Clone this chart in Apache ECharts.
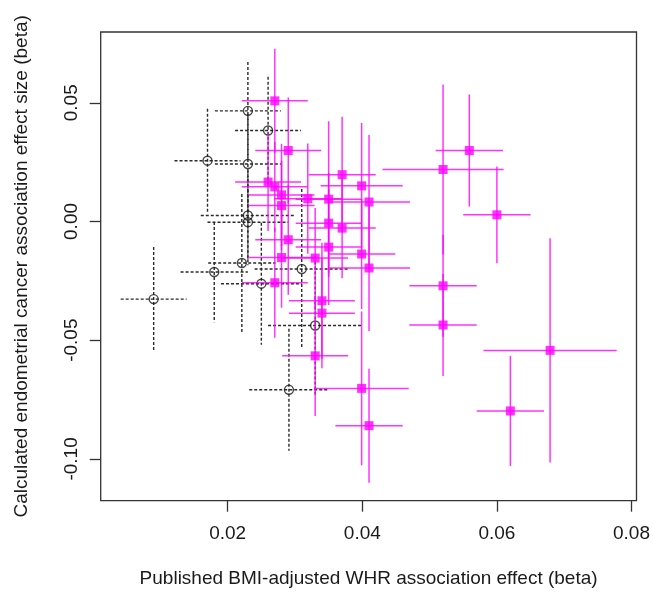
<!DOCTYPE html>
<html>
<head>
<meta charset="utf-8">
<script src="https://cdn.jsdelivr.net/npm/echarts@6/dist/echarts.min.js"></script>
<style>
html,body{margin:0;padding:0;background:#fff;}
#chart{width:653px;height:596px;}
</style>
</head>
<body>
<div id="chart"></div>
<script>
// Black (open circle) points: x, y, x half-width, y half-width
const blackX    = [0.0230, 0.0260, 0.0170, 0.0230, 0.0230, 0.0230, 0.0221, 0.0180, 0.0250, 0.0310, 0.0330, 0.0291, 0.0090];
const blackY    = [0.0466, 0.0383, 0.0256, 0.0242, 0.0025, -0.0003, -0.0175, -0.0213, -0.0262, -0.0200, -0.0438, -0.0709, -0.0327];
const blackXErr = [0.0049, 0.0049, 0.0049, 0.0049, 0.0070, 0.0060, 0.0050, 0.0050, 0.0060, 0.0070, 0.0070, 0.0059, 0.0049];
const blackYErr = [0.0206, 0.0227, 0.0219, 0.0211, 0.0189, 0.0181, 0.0291, 0.0211, 0.0257, 0.0337, 0.0291, 0.0257, 0.0219];

// Magenta (filled square) points
const magX    = [0.0270, 0.0290, 0.0370, 0.0520, 0.0559, 0.0260, 0.0270, 0.0280, 0.0319, 0.0350, 0.0399, 0.0410, 0.0280, 0.0600, 0.0350, 0.0370, 0.0290, 0.0350, 0.0399, 0.0280, 0.0330, 0.0410, 0.0520, 0.0270, 0.0340, 0.0340, 0.0520, 0.0679, 0.0330, 0.0399, 0.0620, 0.0410];
const magY    = [0.0508, 0.0299, 0.0197, 0.0219, 0.0299, 0.0166, 0.0146, 0.0112, 0.0096, 0.0094, 0.0150, 0.0082, 0.0067, 0.0028, -0.0007, -0.0028, -0.0077, -0.0108, -0.0137, -0.0152, -0.0154, -0.0196, -0.0271, -0.0258, -0.0334, -0.0386, -0.0436, -0.0543, -0.0566, -0.0703, -0.0798, -0.0860];
const magXErr = [0.0049, 0.0049, 0.0050, 0.0090, 0.0050, 0.0049, 0.0049, 0.0049, 0.0050, 0.0049, 0.0061, 0.0061, 0.0049, 0.0050, 0.0049, 0.0050, 0.0049, 0.0049, 0.0050, 0.0049, 0.0049, 0.0061, 0.0050, 0.0049, 0.0049, 0.0049, 0.0050, 0.0099, 0.0049, 0.0070, 0.0050, 0.0050];
const magYErr = [0.0219, 0.0223, 0.0244, 0.0358, 0.0236, 0.0206, 0.0189, 0.0215, 0.0232, 0.0328, 0.0265, 0.0282, 0.0189, 0.0204, 0.0211, 0.0211, 0.0232, 0.0244, 0.0232, 0.0211, 0.0211, 0.0265, 0.0215, 0.0232, 0.0244, 0.0232, 0.0215, 0.0472, 0.0253, 0.0324, 0.0232, 0.0240];

const xTicks = [0.02, 0.04, 0.06, 0.08];
const yTicks = [0.05, 0.00, -0.05, -0.10];

const xTitle = 'Published BMI-adjusted WHR association effect (beta)';
const yTitle = 'Calculated endometrial cancer association effect size (beta)';

const blackData = blackX.map((x, i) => [x, blackY[i], blackXErr[i], blackYErr[i]]);
const magData = magX.map((x, i) => [x, magY[i], magXErr[i], magYErr[i]]);

function errRenderer(stroke, lineWidth, dash, opacity) {
  return function (params, api) {
    const x = api.value(0), y = api.value(1), ex = api.value(2), ey = api.value(3);
    const c = api.coord([x, y]);
    const l = api.coord([x - ex, y]);
    const r = api.coord([x + ex, y]);
    const t = api.coord([x, y + ey]);
    const b = api.coord([x, y - ey]);
    const style = { stroke: stroke, lineWidth: lineWidth, lineDash: dash, opacity: opacity, fill: null };
    return {
      type: 'group',
      children: [
        { type: 'line', shape: { x1: l[0], y1: c[1], x2: r[0], y2: c[1] }, style: style },
        { type: 'line', shape: { x1: c[0], y1: t[1], x2: c[0], y2: b[1] }, style: style }
      ]
    };
  };
}

const font = '"Liberation Sans", Arial, sans-serif';
const chart = echarts.init(document.getElementById('chart'), null, { renderer: 'canvas' });
chart.setOption({
  animation: false,
  backgroundColor: '#fff',
  grid: { left: 100.7, right: 15.7, top: 32, bottom: 95.3, show: true, borderColor: '#333', borderWidth: 1.3, backgroundColor: 'transparent' },
  xAxis: {
    type: 'value', min: 0.00113, max: 0.08074,
    splitLine: { show: false },
    axisLine: { show: false, onZero: false },
    axisTick: { show: true, length: 11, customValues: xTicks, lineStyle: { color: '#333', width: 1.3 } },
    axisLabel: { customValues: xTicks, formatter: v => v.toFixed(2), fontFamily: font, fontSize: 19, color: '#1a1a1a', margin: 24 },
    name: xTitle, nameLocation: 'middle', nameGap: 69,
    nameTextStyle: { fontFamily: font, fontSize: 19, color: '#1a1a1a' }
  },
  yAxis: {
    type: 'value', min: -0.1176, max: 0.0798,
    splitLine: { show: false },
    axisLine: { show: false, onZero: false },
    axisTick: { show: true, length: 11, customValues: yTicks, lineStyle: { color: '#333', width: 1.3 } },
    axisLabel: { customValues: yTicks, formatter: v => v.toFixed(2), rotate: 90, fontFamily: font, fontSize: 19, color: '#1a1a1a', margin: 19 },
    name: yTitle, nameLocation: 'middle', nameGap: 69, nameRotate: 90,
    nameTextStyle: { fontFamily: font, fontSize: 19, color: '#1a1a1a' }
  },
  series: [
    { type: 'custom', data: blackData, renderItem: errRenderer('#2a2a2a', 1.4, [3, 2], 1), z: 2 },
    { type: 'scatter', data: blackData, symbol: 'circle', symbolSize: 9,
      itemStyle: { color: 'transparent', borderColor: '#1a1a1a', borderWidth: 1.4 }, z: 3 },
    { type: 'custom', data: magData, renderItem: errRenderer('#ff00ff', 1.5, null, 0.8), z: 4 },
    { type: 'scatter', data: magData, symbol: 'rect', symbolSize: 9,
      itemStyle: { color: '#ff00ff' }, z: 5 }
  ]
});
</script>
</body>
</html>
